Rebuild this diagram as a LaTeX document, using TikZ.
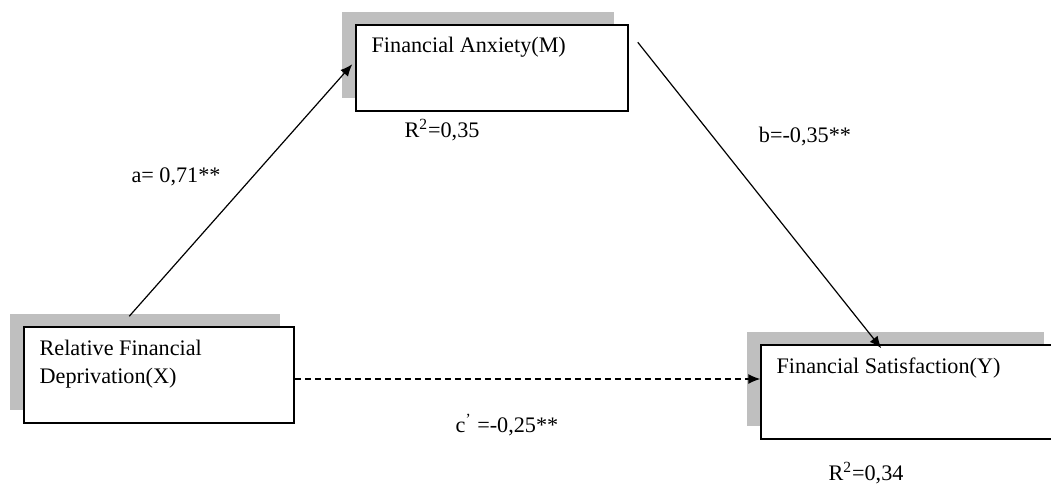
\documentclass[tikz,border=0pt]{standalone}
\usepackage{fontspec}
\setmainfont{Liberation Serif}
\usetikzlibrary{shadows,arrows.meta}

\begin{document}
\begin{tikzpicture}[
    x=0.5pt, y=-0.5pt,
    font=\fontsize{11.1}{14}\selectfont,
    varbox/.style={rectangle, draw, line width=0.75pt, fill=white, inner sep=0pt, drop shadow={shadow xshift=-7pt, shadow yshift=6.5pt, fill=black!25, opacity=1}},
    boxtext/.style={anchor=base west, inner sep=0pt, align=left},
    coef/.style={inner sep=0pt},
    link/.style={line width=0.6pt, -{Latex[length=6pt,width=5pt]}}
]
\clip (0,0) rectangle (1051,484);

% Variables
\node[varbox, minimum width=136pt, minimum height=43pt] (M) at (492,68) {};
\node[varbox, minimum width=135pt, minimum height=48pt] (X) at (159,375) {};
\node[varbox, minimum width=148.5pt, minimum height=47pt] (Y) at (909.5,392) {};

% base of a two-line node is its last line
\node[boxtext] (M-text) at ([shift={(16,28)}]M.north west) {Financial Anxiety(M)};
\node[boxtext] (X-text) at ([shift={(16,57)}]X.north west) {Relative Financial\\Deprivation(X)};
\node[boxtext] (Y-text) at ([shift={(16,29)}]Y.north west) {Financial Satisfaction(Y)};

% Paths
\draw[link] ([shift={(106,-10)}]X.north west) -- ([shift={(-3,40)}]M.north west);
\draw[link] ([shift={(9,18)}]M.north east) -- ([shift={(121,4)}]Y.north west);
\draw[link, dash pattern=on 3pt off 2pt] ([yshift=-2pt]X.east) -- ([yshift=-2pt]X.east -| Y.west);

% Coefficients
\node[coef] (a-coef) at (176,177) {a= 0,71**};
\node[coef] (b-coef) at (805,136) {b=-0,35**};
\node[coef] (c-coef) at (507,425) {c\textsuperscript{'} =-0,25**};
\node[coef] (M-r2) at (442,130) {R\textsuperscript{2}=0,35};
\node[coef] (Y-r2) at (866,473) {R\textsuperscript{2}=0,34};

\end{tikzpicture}
\end{document}
